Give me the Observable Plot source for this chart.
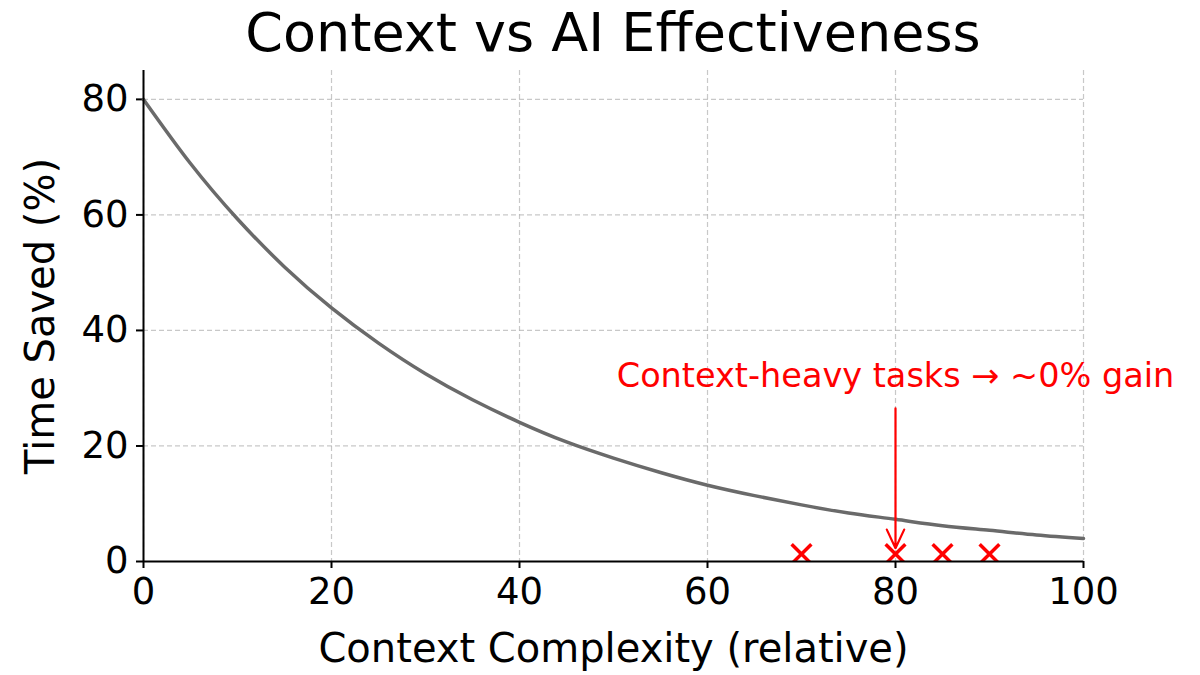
<!DOCTYPE html>
<html>
<head>
<meta charset="utf-8">
<script src="https://cdn.jsdelivr.net/npm/d3@7"></script>
<script src="https://cdn.jsdelivr.net/npm/@observablehq/plot@0.6"></script>
<style>
  html, body { margin: 0; padding: 0; background: #fff; }
  body { width: 1200px; height: 675px; overflow: hidden; font-family: "DejaVu Sans", sans-serif; }
  #title { height: 66px; line-height: 66px; font-size: 54px; text-align: center; padding-left: 26px; color: #000; white-space: nowrap; }
</style>
</head>
<body>
<div id="title">Context vs AI Effectiveness</div>
<div id="chart"></div>
<script>
// Curve values
const complexity = [0, 5, 10, 15, 20, 25, 30, 35, 40, 45, 50, 55, 60, 65, 70, 75, 80, 85, 90, 95, 100];
const timeSaved  = [80, 68.9, 59.3, 51.0, 43.9, 37.8, 32.5, 28.0, 24.1, 20.7, 17.9, 15.4, 13.2, 11.4, 9.8, 8.4, 7.3, 6.2, 5.4, 4.6, 4.0];

// Context-heavy task markers
const taskX = [70, 80, 85, 90];
const taskY = [1.3, 1.3, 1.3, 1.3];

// Annotation
const noteText = "Context-heavy tasks → ~0% gain";
const noteX = [80];
const noteY = [32];
const arrowFrom = [26.5];
const arrowTo = [2.3];

const xTicks = [0, 20, 40, 60, 80, 100];
const yTicks = [0, 20, 40, 60, 80];

const curve = complexity.map((x, i) => ({x, y: timeSaved[i]}));
const tasks = taskX.map((x, i) => ({x, y: taskY[i]}));
const note = noteX.map((x, i) => ({x, y: noteY[i], y1: arrowFrom[i], y2: arrowTo[i], text: noteText}));

const chart = Plot.plot({
  width: 1200,
  height: 609,
  marginTop: 4,
  marginBottom: 114,
  marginLeft: 143,
  marginRight: 117,
  style: { fontFamily: "DejaVu Sans, sans-serif", color: "#000", background: "#fff" },
  x: { domain: [0, 100] },
  y: { domain: [0, 85] },
  marks: [
    Plot.gridX(xTicks, { stroke: "#b0b0b0", strokeOpacity: 0.7, strokeDasharray: "5,3", strokeWidth: 1.2 }),
    Plot.gridY(yTicks, { stroke: "#b0b0b0", strokeOpacity: 0.7, strokeDasharray: "5,3", strokeWidth: 1.2 }),
    Plot.axisX(xTicks, { tickSize: 7, tickPadding: 9, fontSize: 37, strokeWidth: 2,
      label: "Context Complexity (relative)", labelAnchor: "center", labelOffset: 100 }),
    Plot.axisY(yTicks, { tickSize: 7, tickPadding: 8, fontSize: 37, strokeWidth: 2,
      label: "Time Saved (%)", labelAnchor: "center", labelOffset: 118 }),
    Plot.line(curve, { x: "x", y: "y", stroke: "#6a6a6a", strokeWidth: 3.5, curve: "natural" }),
    Plot.dot(tasks, { x: "x", y: "y", symbol: "times", r: 9, stroke: "#ff0000", strokeWidth: 3.5, clip: true }),
    Plot.arrow(note, { x1: "x", x2: "x", y1: "y1", y2: "y2", stroke: "#ff0000", strokeWidth: 2.2, headLength: 14, headAngle: 50 }),
    Plot.text(note, { x: "x", y: "y", text: "text", fill: "#ff0000", fontSize: 33.5, textAnchor: "middle", lineAnchor: "middle" }),
    Plot.ruleX([0], { stroke: "#000", strokeWidth: 2 }),
    Plot.ruleY([0], { stroke: "#000", strokeWidth: 2 })
  ]
});
chart.querySelectorAll("[aria-label='x-axis label'] text, [aria-label='y-axis label'] text").forEach(t => {
  t.setAttribute("font-size", "40");
  t.textContent = t.textContent.replace(/\s*[→↑←↓]\s*/g, "").trim();
});
document.getElementById("chart").appendChild(chart);
</script>
</body>
</html>
